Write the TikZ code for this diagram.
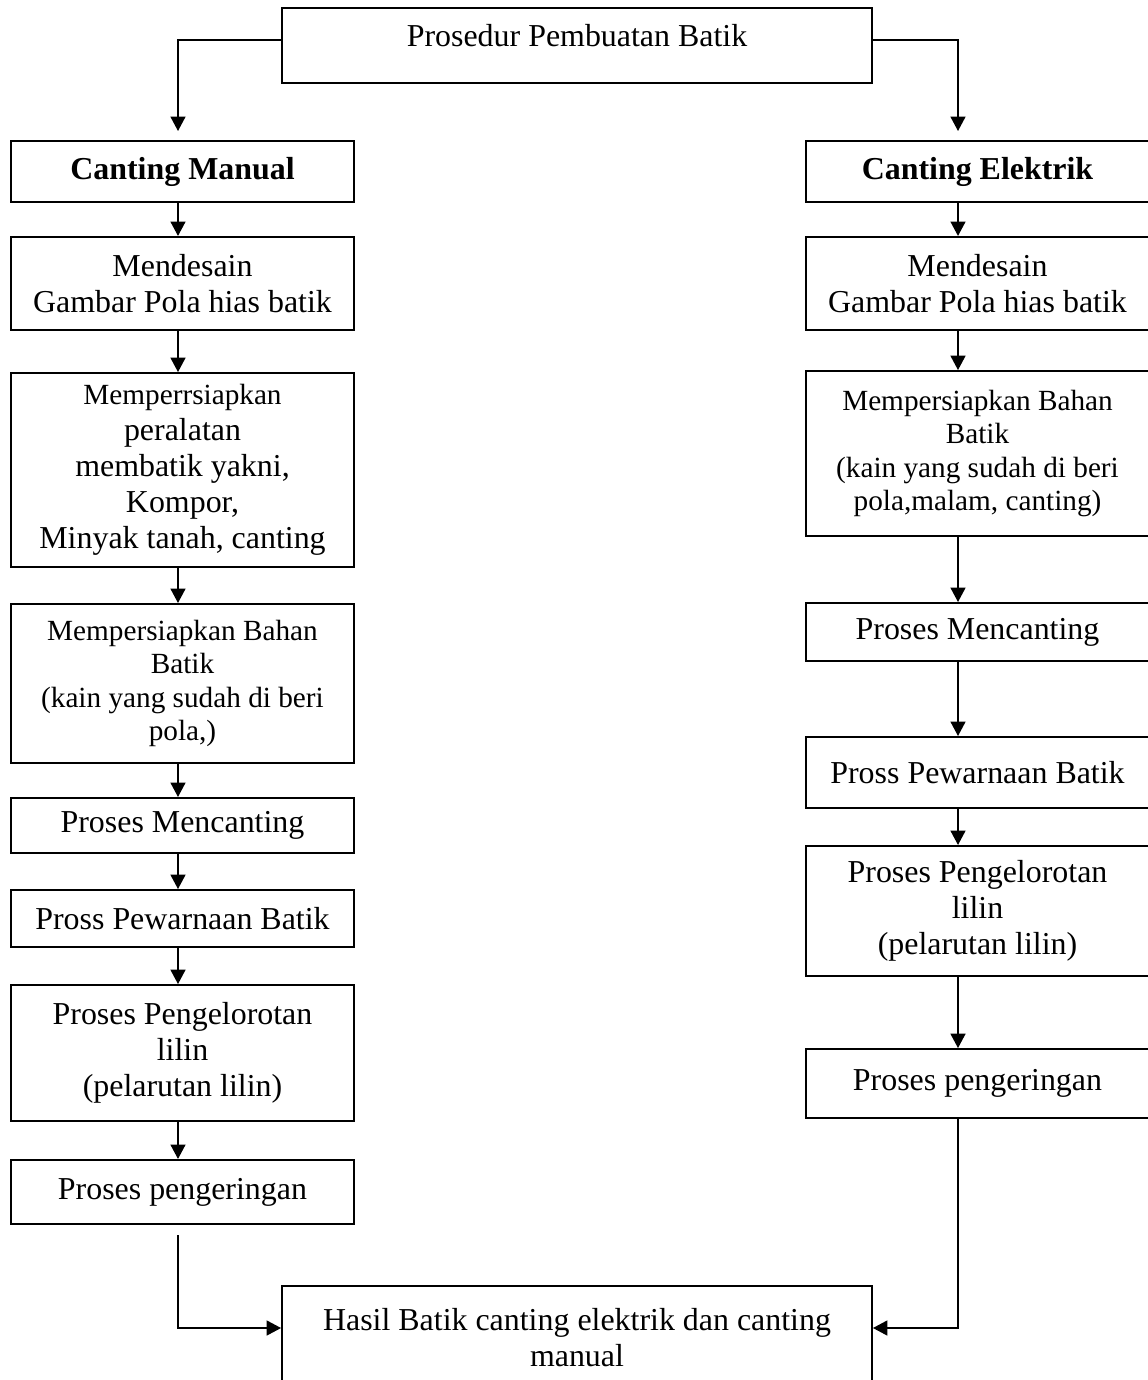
\documentclass[tikz,border=0pt]{standalone}
\usepackage{fontspec}
\setmainfont{Liberation Serif}
\usepackage{tikz}
\usetikzlibrary{arrows.meta}
\tikzstyle{box}=[draw,rectangle,line width=0.75pt,inner sep=0pt,align=center,
                font=\fontsize{12}{13.5}\selectfont]
\tikzstyle{small}=[font=\fontsize{11}{12.6}\selectfont]
\tikzstyle{col}=[minimum width=129pt]
\tikzstyle{flow}=[->,>={Triangle[width=5.6pt,length=5.4pt]},line width=0.6pt]

\begin{document}
\begin{tikzpicture}[x=0.376pt,y=-0.376pt]
\useasboundingbox (0,0) rectangle (1147,1380);
\coordinate (laxis) at (178,0);
\coordinate (raxis) at (958,0);
\coordinate (tline) at (0,40);
\coordinate (hline) at (0,1328);
\coordinate (lfree) at (178,1235);

% head and result
\node[box,minimum width=221.8pt,minimum height=28.2pt,text depth=7.2pt] (top) at (577,45.5)
  {Prosedur Pembuatan Batik};
\node[box,minimum width=221.8pt,minimum height=39.1pt] (hasil) at (577,1338)
  {Hasil Batik canting elektrik dan canting\\ manual};

% canting manual
\node[box,col,minimum height=22.9pt] (lcant) at (182.5,171.5) {\textbf{Canting Manual}};
\node[box,col,minimum height=35pt] (lmend) at (182.5,283.5) {Mendesain\\ Gambar Pola hias batik};
\node[box,col,minimum height=72.9pt] (lalat) at (182.5,470)
  {\fontsize{11}{12.8}\selectfont Memperrsiapkan\\ peralatan\\ membatik yakni,\\ Kompor,\\
   \fontsize{12}{13.5}\selectfont Minyak tanah, canting};
\node[box,small,col,minimum height=59.8pt] (lbahan) at (182.5,683.5)
  {Mempersiapkan Bahan\\ Batik\\ (kain yang sudah di beri\\ pola,)};
\node[box,col,minimum height=20.7pt] (lmenc) at (182.5,825.5) {Proses Mencanting};
\node[box,col,minimum height=21.4pt] (lwarna) at (182.5,918.5) {Pross Pewarnaan Batik};
\node[box,col,minimum height=51.1pt] (llorot) at (182.5,1053)
  {Proses Pengelorotan\\ lilin\\ (pelarutan lilin)};
\node[box,col,minimum height=24.1pt] (lkering) at (182.5,1192) {Proses pengeringan};

% canting elektrik
\node[box,col,minimum height=22.9pt] (rcant) at (977.5,171.5) {\textbf{Canting Elektrik}};
\node[box,col,minimum height=35pt] (rmend) at (977.5,283.5) {Mendesain\\ Gambar Pola hias batik};
\node[box,small,col,minimum height=62pt] (rbahan) at (977.5,453.5)
  {Mempersiapkan Bahan\\ Batik\\ (kain yang sudah di beri\\ pola,malam, canting)};
\node[box,col,minimum height=21.8pt] (rmenc) at (977.5,632) {Proses Mencanting};
\node[box,col,minimum height=26.7pt] (rwarna) at (977.5,772.5) {Pross Pewarnaan Batik};
\node[box,col,minimum height=48.9pt] (rlorot) at (977.5,911)
  {Proses Pengelorotan\\ lilin\\ (pelarutan lilin)};
\node[box,col,minimum height=25.9pt] (rkering) at (977.5,1083.5) {Proses pengeringan};

% arrows
\draw[flow,shorten >=3.4pt] (top.west |- tline) -| (lcant.north -| laxis);
\draw[flow,shorten >=3.4pt] (top.east |- tline) -| (rcant.north -| raxis);
\draw[flow] (lcant.south -| laxis) -- (lmend.north -| laxis);
\draw[flow] (lmend.south -| laxis) -- (lalat.north -| laxis);
\draw[flow] (lalat.south -| laxis) -- (lbahan.north -| laxis);
\draw[flow] (lbahan.south -| laxis) -- (lmenc.north -| laxis);
\draw[flow] (lmenc.south -| laxis) -- (lwarna.north -| laxis);
\draw[flow] (lwarna.south -| laxis) -- (llorot.north -| laxis);
\draw[flow] (llorot.south -| laxis) -- (lkering.north -| laxis);
\draw[flow] (rcant.south -| raxis) -- (rmend.north -| raxis);
\draw[flow] (rmend.south -| raxis) -- (rbahan.north -| raxis);
\draw[flow] (rbahan.south -| raxis) -- (rmenc.north -| raxis);
\draw[flow] (rmenc.south -| raxis) -- (rwarna.north -| raxis);
\draw[flow] (rwarna.south -| raxis) -- (rlorot.north -| raxis);
\draw[flow] (rlorot.south -| raxis) -- (rkering.north -| raxis);
\draw[flow] (lfree) |- (hasil.west |- hline);
\draw[flow] (rkering.south -| raxis) |- (hasil.east |- hline);
\end{tikzpicture}
\end{document}
